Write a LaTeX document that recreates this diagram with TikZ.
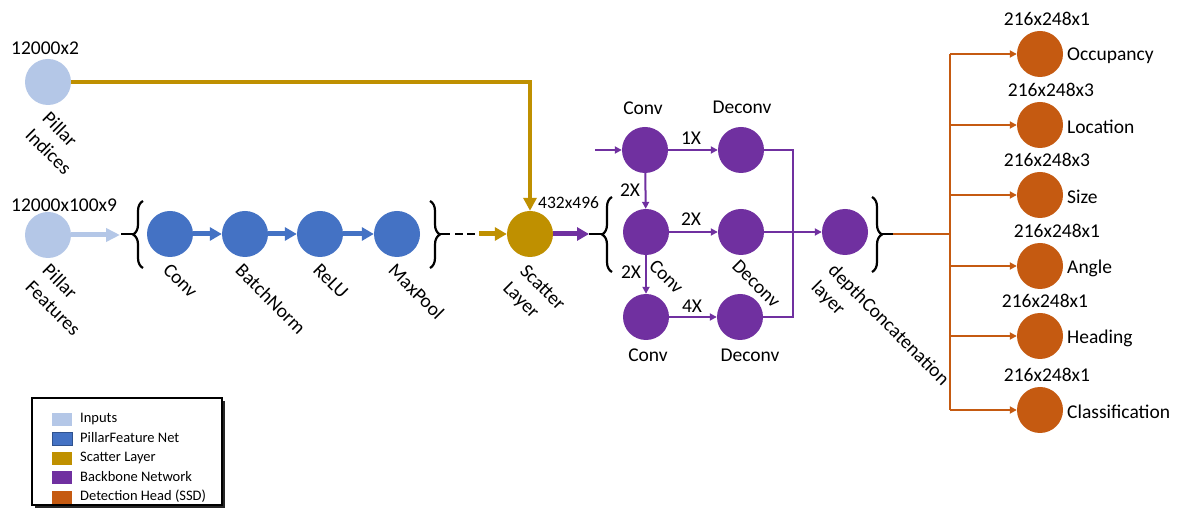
\documentclass[tikz,border=0pt]{standalone}
\usepackage{fontspec}
\setmainfont{Carlito}
\usetikzlibrary{arrows.meta,decorations.pathreplacing}
\definecolor{cinput}{HTML}{B4C7E7}
\definecolor{cpfn}{HTML}{4472C4}
\definecolor{cpfnb}{HTML}{2F528F}
\definecolor{cscat}{HTML}{BF9000}
\definecolor{cback}{HTML}{7030A0}
\definecolor{chead}{HTML}{C55A11}
\tikzset{
  x=1pt,y=-1pt,
  dot/.style={circle,minimum size=46pt,inner sep=0pt,draw=none},
  lbl/.style={font=\fontsize{19.5}{24}\selectfont,inner sep=0pt},
  rlbl/.style={lbl,rotate=-45,anchor=north west,align=left},
  fat/.style={line width=5pt,-{Triangle[length=12pt,width=13pt]}},
  thin/.style={line width=2pt,-{Triangle[length=7pt,width=7pt]}},
  brc/.style={decorate,decoration={brace,amplitude=10pt},line width=2.2pt,black},
  blk/.style={line width=2.5pt,black},
  leg/.style={font=\fontsize{14.5}{17}\selectfont,anchor=west,inner sep=0pt},
  sw/.style={minimum width=20pt,minimum height=13pt,inner sep=0pt,draw=none}
}
\begin{document}
\begin{tikzpicture}
\useasboundingbox[fill=white] (0,0) rectangle (1200,518);
% input nodes
\node[dot,fill=cinput] (pi) at (48,82) {};
\node[dot,fill=cinput] (pf) at (48,235) {};
\node[lbl,anchor=west] (pit) at (11,48) {12000x2};
\node[lbl,anchor=west] (pft) at (11,205) {12000x100x9};
\node[rlbl] (pil) at (51,110) {Pillar\\Indices};
\node[rlbl] (pfl) at (51,262) {Pillar\\Features};
% pillar feature net
\node[dot,fill=cpfn] (c1) at (170,234) {};
\node[dot,fill=cpfn] (bn) at (245,234) {};
\node[dot,fill=cpfn] (rl) at (320,234) {};
\node[dot,fill=cpfn] (mp) at (397,234) {};
\node[rlbl] (c1l) at (171,262) {Conv};
\node[rlbl] (bnl) at (244,262) {BatchNorm};
\node[rlbl] (rll) at (321,262) {ReLU};
\node[rlbl] (mpl) at (397,262) {MaxPool};
\coordinate (b1tip) at (133,234);
\coordinate (b1in) at (121,234);
\draw[brc] (143,268) -- (143,201);
\draw[blk] (b1in) -- (b1tip);
\draw[fat,draw=cinput,-{Triangle[length=14pt,width=13pt]}] (pf.east) -- (120,235);
\draw[fat,draw=cpfn] (c1) -- (bn);
\draw[fat,draw=cpfn] (bn) -- (rl);
\draw[fat,draw=cpfn] (rl) -- (mp);
\draw[brc] (430,201) -- (430,268);
\coordinate (b2tip) at (440,234);
\coordinate (b2out) at (450,234);
\draw[blk] (b2tip) -- (b2out);
\coordinate (dsA) at (455,234);
\coordinate (dsB) at (476,234);
\draw[blk,dash pattern=on 8pt off 4pt] (dsA) -- (dsB);
% scatter
\node[dot,fill=cscat] (sc) at (530,234) {};
\node[rlbl] (scl) at (528,263) {Scatter\\Layer};
\node[font=\fontsize{17.5}{20}\selectfont,anchor=west,inner sep=0pt] (sct) at (538,203) {432x496};
\coordinate (gin) at (479,234);
\draw[fat,draw=cscat] (gin) -- (sc.west);
\coordinate (gcorner) at (530,82);
\draw[line width=4pt,cscat,-{Triangle[length=13pt,width=13pt]}] (pi.east) -- (gcorner) -- (sc.north);
\coordinate (pout) at (589,234);
\coordinate (b3tip) at (602,234);
\draw[fat,draw=cback] (sc.east) -- (pout);
\draw[blk] (pout) -- (b3tip);
\draw[brc] (612,272) -- (612,197);
% backbone
\node[dot,fill=cback] (bc1) at (645,150) {};
\node[dot,fill=cback] (bd1) at (741,150) {};
\node[dot,fill=cback] (bc2) at (646,232) {};
\node[dot,fill=cback] (bd2) at (741,232) {};
\node[dot,fill=cback] (bc3) at (646,317) {};
\node[dot,fill=cback] (bd3) at (740,317) {};
\node[dot,fill=cback] (dc) at (845,232) {};
\node[lbl] (bc1l) at (643,108) {Conv};
\node[lbl] (bd1l) at (742,107) {Deconv};
\node[lbl] (bc3l) at (648,355) {Conv};
\node[lbl] (bd3l) at (750,355) {Deconv};
\node[rlbl] (bc2l) at (657,258) {Conv};
\node[rlbl] (bd2l) at (740,258) {Deconv};
\node[rlbl] (dcl) at (837,262) {depthConcatenation\\layer};
\node[lbl] (x1) at (691,138) {1X};
\node[lbl] (x2) at (691,219) {2X};
\node[lbl] (x4) at (692,306) {4X};
\node[lbl] (v1) at (630,190) {2X};
\node[lbl] (v2) at (631,272) {2X};
\coordinate (bin) at (595,150);
\draw[thin,cback] (bin) -- (bc1.west);
\draw[thin,cback] (bc1) -- (bd1);
\draw[thin,cback] (bc1) -- (bc2);
\draw[thin,cback] (bc2) -- (bd2);
\draw[thin,cback] (bc2) -- (bc3);
\draw[thin,cback] (bc3) -- (bd3);
\coordinate (m1) at (793,150);
\coordinate (m3) at (793,317);
\draw[line width=2pt,cback] (bd1.east) -- (m1) -- (m3) -- (bd3.east);
\draw[thin,cback] (bd2) -- (dc);
\draw[brc] (872,197) -- (872,272);
\coordinate (b4tip) at (882,234);
\coordinate (b4out) at (893,234);
\draw[blk] (b4tip) -- (b4out);
% detection head
\coordinate (hj) at (950,234);
\draw[line width=2pt,chead] (b4out) -- (hj);
\foreach \n/\y/\name/\dim/\dx in {o1/54/Occupancy/216x248x1/1047,o2/125/Location/216x248x3/1051,o3/195/Size/216x248x3/1047,o4/266/Angle/216x248x1/1057,o5/336/Heading/216x248x1/1045,o6/410/Classification/216x248x1/1047}{
  \node[dot,fill=chead] (\n) at (1040,\y) {};
  \node[lbl,anchor=west] (\n n) at (1067,\y+2) {\name};
  \node[lbl] (\n d) at (\dx,\y-35) {\dim};
  \coordinate (\n j) at (950,\y);
  \draw[thin,chead] (\n j) -- (\n.west);
}
\draw[line width=2pt,chead] (o1j) -- (o6j);
% legend
\fill[black!85] (35,401) rectangle (225,508);
\draw[line width=1.2pt,fill=white] (32,398) rectangle (222,505);
\node[sw,fill=cinput] (s1) at (62,420) {};
\node[sw,fill=cpfn,draw=cpfnb,line width=1pt] (s2) at (62,439) {};
\node[sw,fill=cscat] (s3) at (62,459) {};
\node[sw,fill=cback] (s4) at (62,478) {};
\node[sw,fill=chead] (s5) at (62,497) {};
\node[leg] (t1) at (80,419) {Inputs};
\node[leg] (t2) at (80,438) {PillarFeature Net};
\node[leg] (t3) at (80,458) {Scatter Layer};
\node[leg] (t4) at (80,477) {Backbone Network};
\node[leg] (t5) at (80,496) {Detection Head (SSD)};
\end{tikzpicture}
\end{document}
